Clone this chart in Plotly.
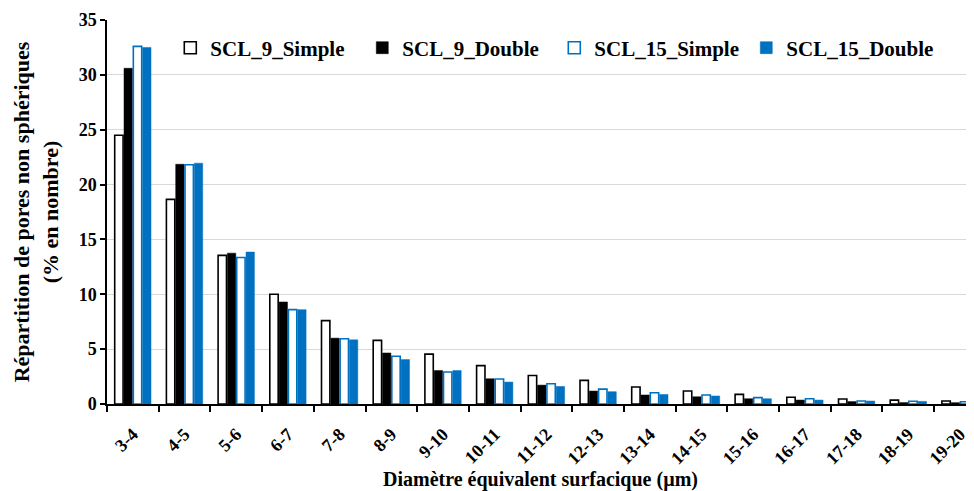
import plotly.graph_objects as go

categories = ["3-4", "4-5", "5-6", "6-7", "7-8", "8-9", "9-10", "10-11", "11-12",
              "12-13", "13-14", "14-15", "15-16", "16-17", "17-18", "18-19", "19-20"]

scl9_simple = [24.5, 18.65, 13.55, 10.0, 7.6, 5.8, 4.55, 3.5, 2.6, 2.15, 1.55, 1.18, 0.88, 0.62, 0.45, 0.35, 0.28]
scl9_double = [30.6, 21.85, 13.75, 9.3, 6.0, 4.65, 3.05, 2.3, 1.72, 1.18, 0.82, 0.66, 0.48, 0.36, 0.22, 0.13, 0.12]
scl15_simple = [32.6, 21.8, 13.35, 8.6, 5.95, 4.35, 2.92, 2.28, 1.85, 1.36, 1.03, 0.82, 0.58, 0.48, 0.28, 0.25, 0.2]
scl15_double = [32.5, 21.95, 13.85, 8.6, 5.85, 4.05, 3.05, 2.0, 1.6, 1.12, 0.87, 0.73, 0.48, 0.36, 0.27, 0.24, 0.2]

BLUE = "#0070C0"
FONT = "Liberation Serif"

fig = go.Figure()
fig.add_bar(x=categories, y=scl9_simple, name="SCL_9_Simple",
            marker=dict(color="white", line=dict(color="black", width=1.6)))
fig.add_bar(x=categories, y=scl9_double, name="SCL_9_Double",
            marker=dict(color="black", line=dict(color="black", width=0.5)))
fig.add_bar(x=categories, y=scl15_simple, name="SCL_15_Simple",
            marker=dict(color="white", line=dict(color=BLUE, width=1.6)))
fig.add_bar(x=categories, y=scl15_double, name="SCL_15_Double",
            marker=dict(color=BLUE, line=dict(color=BLUE, width=0.5)))

fig.update_layout(
    width=966, height=483,
    margin=dict(l=99, r=0, t=12, b=87),
    plot_bgcolor="white", paper_bgcolor="white",
    barmode="group", bargap=0.28, bargroupgap=0.1,
    font=dict(family=FONT, color="black", size=16),
    legend=dict(orientation="h", x=0.073, y=0.927, xanchor="left", yanchor="middle",
                font=dict(family=FONT, size=21, color="black", weight="bold"),
                entrywidth=147, bgcolor="rgba(0,0,0,0)", itemwidth=30),
    xaxis=dict(
        type="category", range=[-0.5, 16.27], automargin=False,
        showline=True, linecolor="black", linewidth=1.5,
        ticks="outside", tickson="boundaries", ticklen=6, tickwidth=1.5, tickcolor="black",
        tickangle=-45, ticklabelstandoff=11,
        tickfont=dict(family=FONT, size=18, color="black", weight="bold"),
        title=dict(text="Diamètre équivalent surfacique (µm)",
                   font=dict(family=FONT, size=20, color="black", weight="bold"),
                   standoff=12),
        showgrid=False,
    ),
    yaxis=dict(
        range=[0, 35], dtick=5, automargin=False,
        showline=True, linecolor="black", linewidth=1.5,
        ticks="outside", ticklen=5, tickwidth=1.5, tickcolor="black",
        tickfont=dict(family=FONT, size=18, color="black", weight="bold"),
        showgrid=True, gridcolor="#d9d9d9", gridwidth=1,
        zeroline=False,
        title=dict(text="Répartition de pores non sphériques<br>(% en nombre)",
                   font=dict(family=FONT, size=22, color="black", weight="bold"),
                   standoff=14),
    ),
)

fig.write_html("out.html")
